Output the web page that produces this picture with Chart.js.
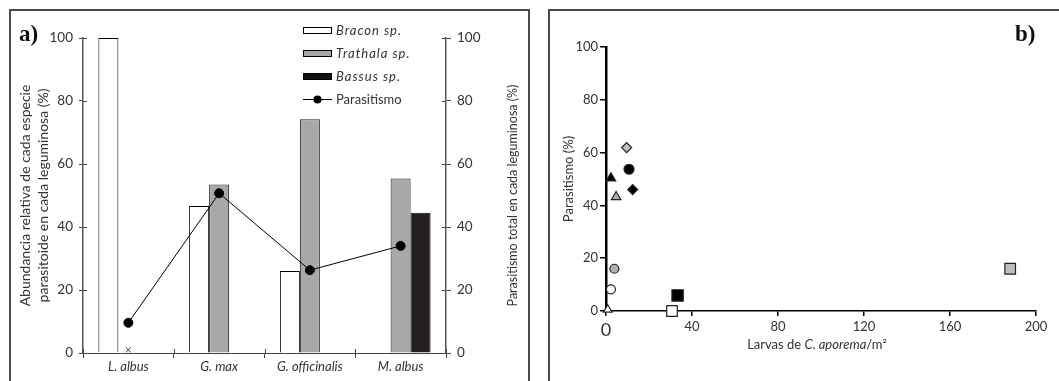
<!DOCTYPE html>
<html>
<head>
<meta charset="utf-8">
<script src="https://cdn.jsdelivr.net/npm/chart.js@4.4.0/dist/chart.umd.min.js"></script>
<style>
  body { margin: 0; width: 1059px; height: 381px; background: #fff; overflow: hidden; position: relative; }
  .box { position: absolute; border: 2px solid #4a4a4a; border-bottom: none; }
  #boxA { left: 9px; top: 9px; width: 517px; height: 400px; }
  #boxB { left: 548px; top: 9px; width: 520px; height: 400px; }
  #wrapA { position: absolute; left: 0; top: 0; width: 530px; height: 381px; }
  #wrapB { position: absolute; left: 549px; top: 0; width: 510px; height: 381px; }
</style>
</head>
<body>
<div class="box" id="boxA"></div>
<div class="box" id="boxB"></div>
<div id="wrapA"><canvas id="chartA"></canvas></div>
<div id="wrapB"><canvas id="chartB"></canvas></div>
<script>
// ---- panel a) data
const categories = ["L. albus", "G. max", "G. officinalis", "M. albus"];
const bracon = [100, 46.7, 26, 0];
const trathala = [0, 53.5, 74.2, 55.4];
const bassus = [0, 0, 0, 44.5];
const parasitismo = [9.6, 50.7, 26.3, 34];
const trathalaZero = [1, null, null, null];   // the small "x" on L. albus

// ---- panel b) data
const larvas =      [9.6, 10.7, 2.3, 12.4, 4.7, 3.9, 2.3, 0.8, 30.7, 33.3, 188];
const parasitismoB = [61.9, 53.7, 50.3, 46, 43.2, 16, 8.2, 0.5, 0, 5.9, 16];

// marker look for each point of panel b
const shapes = ["rectRot", "circle", "triangle", "rectRot", "triangle", "circle", "circle", "triangle", "rect", "rect", "rect"];
const fills = ["#bdbdbd", "#000", "#000", "#000", "#b0b0b0", "#b0b0b0", "#fff", "#fff", "#fff", "#000", "#bdbdbd"];
const sizes = [5, 5, 5.5, 5, 5.5, 4.5, 4.5, 5, 7.5, 8, 7.5];

Chart.defaults.font.family = "Lato, 'Open Sans', sans-serif";
Chart.defaults.font.size = 13;
Chart.defaults.color = "#333";

const TXT = "#333";

////////////////////////////////////////////////////////////////////////////////////

// small tick marks on the inside of the axes (the figure has crossing ticks)
const innerTicks = {
    id: "innerTicks",
    afterDraw(chart) {
        const {ctx, chartArea: a, scales: {x, y, y1}} = chart;
        ctx.save();
        ctx.strokeStyle = "#444";
        ctx.lineWidth = 1;
        ctx.beginPath();
        y.ticks.forEach(t => {
            const p = Math.round(y.getPixelForValue(t.value)) + 0.5;
            ctx.moveTo(a.left, p); ctx.lineTo(a.left + 4, p);
        });
        y1.ticks.forEach(t => {
            const p = Math.round(y1.getPixelForValue(t.value)) + 0.5;
            ctx.moveTo(a.right - 4, p); ctx.lineTo(a.right, p);
        });
        for (let i = 0; i <= categories.length; i++) {
            const p = Math.round(x.getPixelForValue(i - 0.5)) + 0.5;
            ctx.moveTo(p, a.bottom); ctx.lineTo(p, a.bottom - 4);
        }
        ctx.stroke();
        ctx.restore();
    }
};

const legendA = {
    id: "legendA",
    afterDraw(chart) {
        const ctx = chart.ctx;
        const items = [
            {label: "Bracon sp.", fill: "#fff", italic: true},
            {label: "Trathala sp.", fill: "#a8a8a8", italic: true},
            {label: "Bassus sp.", fill: "#111", italic: true},
            {label: "Parasitismo", line: true}
        ];
        ctx.save();
        items.forEach((it, i) => {
            const cy = 30 + i * 23;
            if (it.line) {
                ctx.strokeStyle = "#000";
                ctx.lineWidth = 1;
                ctx.beginPath();
                ctx.moveTo(303, cy + 0.5); ctx.lineTo(332, cy + 0.5);
                ctx.stroke();
                ctx.fillStyle = "#000";
                ctx.beginPath();
                ctx.arc(317.5, cy + 0.5, 4, 0, Math.PI * 2);
                ctx.fill();
            } else {
                ctx.fillStyle = it.fill;
                ctx.fillRect(303, cy - 3, 29, 7);
                ctx.strokeStyle = "#000";
                ctx.lineWidth = 1;
                ctx.strokeRect(303.5, cy - 2.5, 28, 6);
            }
            ctx.fillStyle = TXT;
            ctx.textBaseline = "middle";
            ctx.textAlign = "left";
            ctx.font = (it.italic ? "italic " : "") + "13px Lato, sans-serif";
            ctx.letterSpacing = it.italic ? "1px" : "0px";
            ctx.fillText(it.label, 336, cy + 1);
        });
        ctx.restore();
    }
};

const sideTitleA = {
    id: "sideTitleA",
    afterDraw(chart) {
        const ctx = chart.ctx;
        const a = chart.chartArea;
        ctx.save();
        ctx.translate(513, (a.top + a.bottom) / 2);
        ctx.rotate(-Math.PI / 2);
        ctx.fillStyle = TXT;
        ctx.font = "12.5px Lato, sans-serif";
        ctx.textAlign = "center";
        ctx.textBaseline = "middle";
        ctx.fillText("Parasitismo total en cada leguminosa (%)", 0, 0);
        ctx.restore();

        ctx.save();
        ctx.fillStyle = "#111";
        ctx.font = "bold 23px 'Liberation Serif', serif";
        ctx.textBaseline = "alphabetic";
        ctx.fillText("a)", 19, 41);
        ctx.restore();
    }
};

const chartA = new Chart(document.querySelector("#chartA"), {
    type: "bar",
    data: {
        labels: categories,
        datasets: [
            {
                type: "line",
                label: "Parasitismo",
                data: parasitismo,
                yAxisID: "y1",
                borderColor: "#000",
                borderWidth: 1,
                pointBackgroundColor: "#000",
                pointBorderColor: "#000",
                pointRadius: 4.5,
                order: 0
            },
            {
                type: "line",
                label: "x",
                data: trathalaZero,
                yAxisID: "y",
                showLine: false,
                pointStyle: "crossRot",
                pointRadius: 3.5,
                borderColor: "#333",
                borderWidth: 1,
                order: 0
            },
            {
                label: "Bracon sp.",
                data: bracon,
                backgroundColor: "#fff",
                borderColor: "#000",
                borderWidth: 1,
                order: 1
            },
            {
                label: "Trathala sp.",
                data: trathala,
                backgroundColor: "#a8a8a8",
                borderColor: "#222",
                borderWidth: 1,
                order: 1
            },
            {
                label: "Bassus sp.",
                data: bassus,
                backgroundColor: "#231f20",
                borderColor: "#111",
                borderWidth: 1,
                order: 1
            }
        ]
    },
    options: {
        animation: false,
        responsive: true,
        maintainAspectRatio: false,
        events: [],
        categoryPercentage: 0.661,
        barPercentage: 1,
        layout: {padding: {left: 0, right: 0, top: 38, bottom: 0}},
        plugins: {legend: {display: false}, tooltip: {enabled: false}},
        scales: {
            x: {
                afterFit: s => { s.height = 28; },
                border: {display: true, color: "#444", width: 1},
                grid: {display: true, drawOnChartArea: false, tickLength: 5, color: "#444"},
                ticks: {font: {style: "italic", size: 13}, color: TXT, padding: 1, maxRotation: 0}
            },
            y: {
                position: "left",
                min: 0, max: 100,
                afterFit: s => { s.width = 83; },
                border: {display: true, color: "#555", width: 1.5},
                grid: {display: true, drawOnChartArea: false, tickLength: 4, color: "#444"},
                ticks: {stepSize: 20, padding: 6, color: TXT, font: {size: 13.5}},
                title: {
                    display: true,
                    text: ["Abundancia relativa de cada especie", "parasitoide en cada leguminosa (%)"],
                    color: TXT,
                    font: {size: 14, lineHeight: 1.3},
                    padding: {top: 16, bottom: 0}
                }
            },
            y1: {
                position: "right",
                min: 0, max: 100,
                afterFit: s => { s.width = 84; },
                border: {display: true, color: "#555", width: 1.5},
                grid: {display: true, drawOnChartArea: false, tickLength: 5, color: "#444"},
                ticks: {stepSize: 20, padding: 6, color: TXT, font: {size: 13.5}}
            }
        }
    },
    plugins: [innerTicks, legendA, sideTitleA]
});

////////////////////////////////////////////////////////////////////////////////////

const labelsB = {
    id: "labelsB",
    afterDraw(chart) {
        const ctx = chart.ctx;
        const a = chart.chartArea;
        // x axis title with the species name in italics
        const parts = [
            {t: "Larvas de ", it: false},
            {t: "C. aporema", it: true},
            {t: "/m²", it: false}
        ];
        ctx.save();
        ctx.fillStyle = TXT;
        ctx.textBaseline = "middle";
        ctx.textAlign = "left";
        let total = 0;
        parts.forEach(p => {
            ctx.font = (p.it ? "italic " : "") + "13px Lato, sans-serif";
            p.w = ctx.measureText(p.t).width;
            total += p.w;
        });
        let x0 = (a.left + a.right) / 2 - 4 - total / 2;
        parts.forEach(p => {
            ctx.font = (p.it ? "italic " : "") + "13px Lato, sans-serif";
            ctx.fillText(p.t, x0, 345);
            x0 += p.w;
        });
        ctx.fillStyle = "#111";
        ctx.font = "bold 23px 'Liberation Serif', serif";
        ctx.textBaseline = "alphabetic";
        ctx.fillText("b)", 466, 41);
        ctx.restore();
    }
};

const chartB = new Chart(document.querySelector("#chartB"), {
    type: "scatter",
    data: {
        datasets: [
            {
                label: "Parasitismo",
                data: larvas.map((v, i) => ({x: v, y: parasitismoB[i]})),
                pointStyle: shapes,
                pointBackgroundColor: fills,
                pointBorderColor: "#222",
                pointBorderWidth: 1.2,
                pointRadius: sizes,
                clip: false
            }
        ]
    },
    options: {
        animation: false,
        responsive: true,
        maintainAspectRatio: false,
        events: [],
        layout: {padding: {left: 0, right: 23, top: 47, bottom: 0}},
        plugins: {legend: {display: false}, tooltip: {enabled: false}},
        scales: {
            x: {
                type: "linear",
                min: 0, max: 200,
                afterFit: s => { s.height = 70; },
                border: {display: true, color: "#000", width: 1.5},
                grid: {display: true, drawOnChartArea: false, tickLength: 5, color: "#000", lineWidth: 1.5},
                ticks: {
                    stepSize: 40,
                    padding: 3,
                    color: TXT,
                    font: ctx => ({size: ctx.index === 0 ? 18 : 13})
                }
            },
            y: {
                min: 0, max: 100,
                afterFit: s => { s.width = 57; },
                border: {display: true, color: "#000", width: 2.5},
                grid: {display: true, drawOnChartArea: false, tickLength: 6, color: "#000", lineWidth: 1.5},
                ticks: {stepSize: 20, padding: 2, color: TXT, font: {size: 13}},
                title: {
                    display: true,
                    text: "Parasitismo (%)",
                    color: TXT,
                    font: {size: 13},
                    padding: {top: 12, bottom: 0}
                }
            }
        }
    },
    plugins: [labelsB]
});
</script>
</body>
</html>
